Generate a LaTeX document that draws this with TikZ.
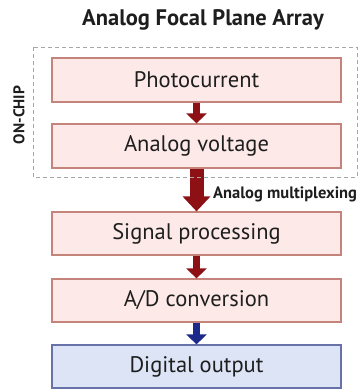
\documentclass[tikz,border=0pt]{standalone}
\usepackage{fontspec}
\setmainfont{PT Sans}
\usetikzlibrary{arrows.meta}
\definecolor{boxfill}{RGB}{253,234,232}
\definecolor{boxline}{RGB}{196,132,124}
\definecolor{digfill}{RGB}{220,228,245}
\definecolor{digline}{RGB}{104,114,168}
\definecolor{redarrow}{RGB}{140,16,20}
\definecolor{bluearrow}{RGB}{28,40,138}
\definecolor{ink}{RGB}{30,30,30}
\tikzset{
  stage/.style={draw=boxline, fill=boxfill, line width=1.2pt, minimum width=289pt,
    minimum height=44pt, inner sep=0pt, text=ink, font=\fontsize{22.5}{26}\selectfont},
  digital/.style={stage, draw=digline, fill=digfill},
  flow/.style={draw=redarrow, line width=7pt, -{Triangle[width=20pt,length=10pt]}},
  bigflow/.style={draw=redarrow, line width=14pt, -{Triangle[width=27pt,length=15pt]}},
  digflow/.style={flow, draw=bluearrow},
}
\begin{document}
\begin{tikzpicture}[x=1pt,y=-1pt]
\useasboundingbox (0,0) rectangle (359,390);
% title
\node[text=ink, font=\bfseries\fontsize{22.5}{26}\selectfont] (title) at (203,20) {Analog Focal Plane Array};
% processing chain
\node[stage] (photo) at (196.5,80) {Photocurrent};
\node[stage] (volt) at (196.5,146) {Analog voltage};
\node[stage, minimum height=43pt] (sig) at (196.5,233.5) {Signal processing};
\node[stage, minimum height=43pt] (ad) at (196.5,300.5) {A/D conversion};
\node[digital, minimum height=43pt] (dig) at (196.5,366.5) {Digital output};
% arrows between stages
\draw[flow] (photo.south) -- (volt.north);
\draw[bigflow] (volt.south) -- (sig.north);
\draw[flow] (sig.south) -- (ad.north);
\draw[digflow] (ad.south) -- (dig.north);
\node[text=ink, font=\bfseries\fontsize{16.5}{19}\selectfont, anchor=west, inner sep=0pt] (mux) at (213,194) {Analog multiplexing};
% on-chip region
\draw[gray!70, dashed, line width=0.9pt, dash pattern=on 4pt off 3pt] (33,47) rectangle (357,177);
\node[text=ink, font=\bfseries\fontsize{15.5}{18}\selectfont, rotate=90] (chip) at (19,115) {ON-CHIP};
\end{tikzpicture}
\end{document}
